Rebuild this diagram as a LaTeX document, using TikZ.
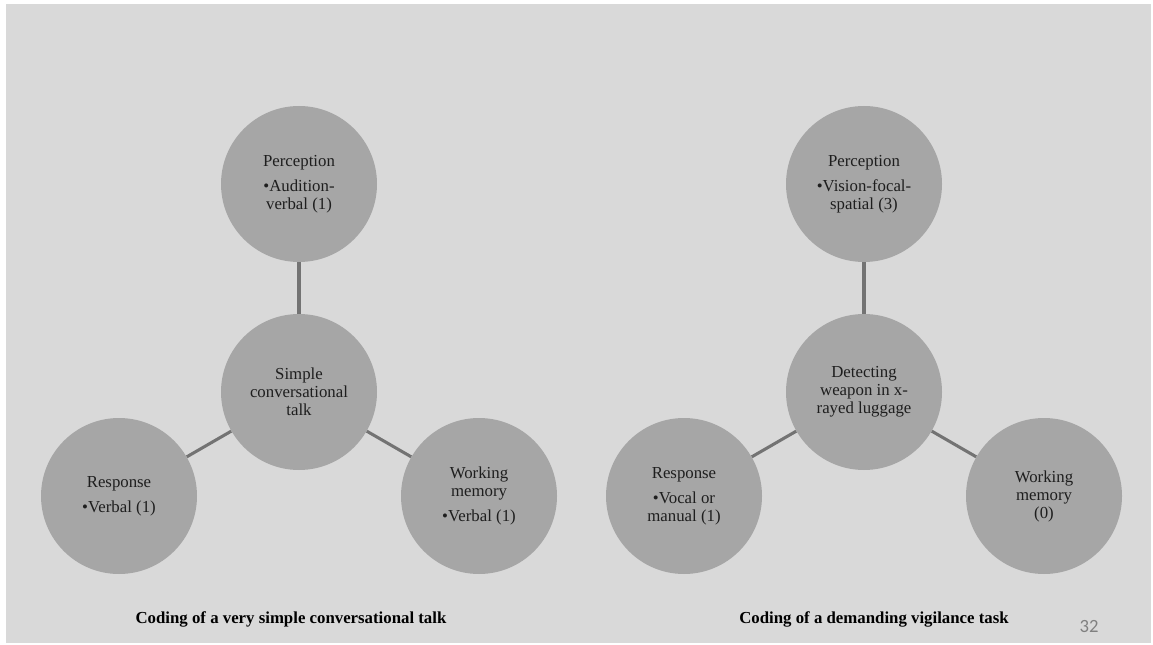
\documentclass[tikz,border=0pt]{standalone}
\usepackage{fontspec}
\setmainfont{Liberation Serif}
\newfontfamily\pagenumfont{Carlito}
\usetikzlibrary{positioning}

\definecolor{slidegray}{HTML}{D9D9D9}
\definecolor{bubblegray}{HTML}{A6A6A6}
\definecolor{linkgray}{HTML}{737373}
\definecolor{inkgray}{HTML}{1E1E1E}

\begin{document}
\begin{tikzpicture}[
    x=0.75pt, y=-0.75pt,
    font=\fontsize{12.6}{13.5}\selectfont,
    bubble/.style={circle,fill=bubblegray,minimum size=117pt,inner sep=0pt,
                   align=center,text=inkgray},
    link/.style={draw=linkgray,line width=2.3pt},
    caption/.style={anchor=base,font=\fontsize{12.6}{13.5}\selectfont\bfseries,text=black}
]

% Slide background
\fill[white] (0,0) rectangle (1153,645);
\fill[slidegray] (6,4) rectangle (1151,643);

% Conversational talk
\node[bubble] (TalkC) at (299,392) {Simple\\conversational\\talk};
\node[bubble] (TalkP) at (299,184) {Perception\\[5pt]\textbullet Audition-\\verbal (1)};
\node[bubble] (TalkR) at (119,496) {Response\\[5pt]\textbullet Verbal (1)};
\node[bubble] (TalkW) at (479,496) {Working\\memory\\[5pt]\textbullet Verbal (1)};

\draw[link] (TalkC) -- (TalkP);
\draw[link] (TalkC) -- (TalkR);
\draw[link] (TalkC) -- (TalkW);

\node[caption] (TalkCap) at (291,623) {Coding of a very simple conversational talk};

% Vigilance task
\node[bubble] (TaskC) at (864,392) {Detecting\\weapon in x-\\rayed luggage};
\node[bubble] (TaskP) at (864,184) {Perception\\[5pt]\textbullet Vision-focal-\\spatial (3)};
\node[bubble] (TaskR) at (684,496) {Response\\[5pt]\textbullet Vocal or\\manual (1)};
\node[bubble] (TaskW) at (1044,496) {Working\\memory\\(0)};

\draw[link] (TaskC) -- (TaskP);
\draw[link] (TaskC) -- (TaskR);
\draw[link] (TaskC) -- (TaskW);

\node[caption] (TaskCap) at (874,623) {Coding of a demanding vigilance task};

% Slide number
\node[anchor=base,text=gray,font=\pagenumfont\fontsize{14}{16}\selectfont] (PageNo) at (1089,632) {32};

\end{tikzpicture}
\end{document}
